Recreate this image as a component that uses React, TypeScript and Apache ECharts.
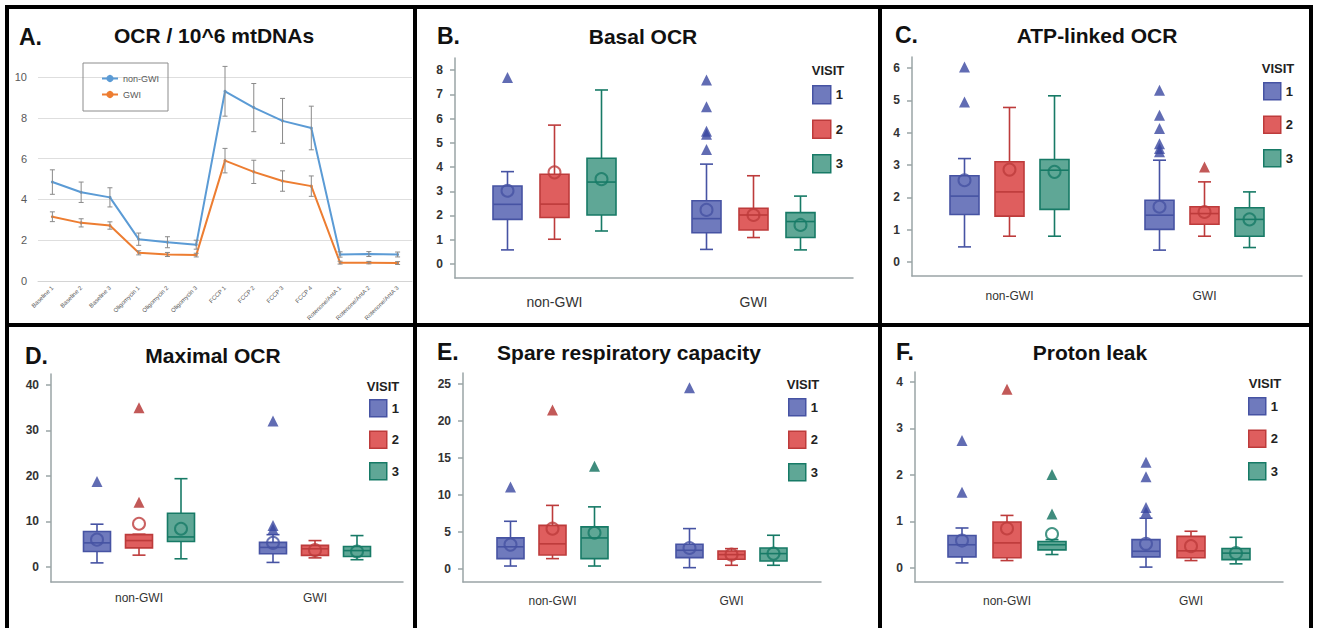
import React, { useEffect, useRef } from "react";
import * as echarts from "echarts";

// ---------- Panel A data ----------
const timePoints = [
  "Baseline 1", "Baseline 2", "Baseline 3",
  "Oligomycin 1", "Oligomycin 2", "Oligomycin 3",
  "FCCP 1", "FCCP 2", "FCCP 3", "FCCP 4",
  "Rotenone/AntA 1", "Rotenone/AntA 2", "Rotenone/AntA 3",
];
const nonGwiOcr = [4.85, 4.35, 4.1, 2.05, 1.9, 1.78, 9.3, 8.5, 7.85, 7.5, 1.3, 1.32, 1.3];
const nonGwiErr = [0.6, 0.5, 0.47, 0.3, 0.27, 0.22, 1.22, 1.18, 1.1, 1.07, 0.13, 0.12, 0.12];
const gwiOcr = [3.15, 2.85, 2.72, 1.38, 1.3, 1.27, 5.9, 5.35, 4.9, 4.65, 0.9, 0.9, 0.88];
const gwiErr = [0.24, 0.2, 0.18, 0.1, 0.1, 0.09, 0.6, 0.57, 0.5, 0.5, 0.07, 0.06, 0.07];
const ocrTicks = [0, 2, 4, 6, 8, 10];

// ---------- Box panels ----------
const groups = ["non-GWI", "GWI"];
const visits = ["1", "2", "3"];

// each box: [whisker low, Q1, median, Q3, whisker high]; [visit][group]
const basalBoxes = [
  [[0.58, 1.84, 2.46, 3.22, 3.81], [0.6, 1.29, 1.87, 2.61, 4.12]],
  [[1.02, 1.92, 2.47, 3.7, 5.73], [1.09, 1.4, 2.02, 2.3, 3.64]],
  [[1.36, 2.02, 3.38, 4.36, 7.18], [0.58, 1.09, 1.75, 2.12, 2.8]],
];
const basalMeans = [[3.02, 2.23], [3.78, 2.02], [3.5, 1.61]];
const basalOutliers = [[[7.7], [7.59, 6.49, 5.48, 5.35, 4.72]], [[], []], [[], []]];
const basalTicks = [0, 1, 2, 3, 4, 5, 6, 7, 8];

const atpBoxes = [
  [[0.47, 1.47, 2.04, 2.67, 3.2], [0.37, 1.01, 1.45, 1.91, 3.15]],
  [[0.8, 1.42, 2.17, 3.1, 4.78], [0.8, 1.17, 1.5, 1.71, 2.48]],
  [[0.8, 1.63, 2.84, 3.17, 5.14], [0.45, 0.8, 1.32, 1.68, 2.17]],
];
const atpMeans = [[2.53, 1.71], [2.86, 1.55], [2.79, 1.32]];
const atpOutliers = [[[6.03, 4.95], [5.31, 4.54, 4.13, 3.66, 3.51, 3.41]], [[], [2.94]], [[], []]];
const atpTicks = [0, 1, 2, 3, 4, 5, 6];

const maxBoxes = [
  [[0.9, 3.4, 5.3, 7.8, 9.4], [1.0, 2.9, 4.3, 5.4, 7.1]],
  [[2.6, 4.2, 5.8, 7.1, 7.2], [2.0, 2.56, 4.0, 4.75, 5.8]],
  [[1.8, 5.6, 6.6, 11.8, 19.4], [1.6, 2.3, 3.6, 4.5, 6.9]],
];
const maxMeans = [[6.0, 5.3], [9.5, 3.7], [8.4, 3.4]];
const maxOutliers = [[[18.8], [32.1, 9.1, 8.3]], [[35.0, 14.2], []], [[], []]];
const maxTicks = [0, 10, 20, 30, 40];

const spareBoxes = [
  [[0.4, 1.4, 3.0, 4.2, 6.45], [0.18, 1.53, 2.53, 3.34, 5.46]],
  [[1.4, 1.9, 3.4, 5.9, 8.6], [0.5, 1.31, 1.94, 2.44, 2.75]],
  [[0.4, 1.4, 4.2, 5.7, 8.4], [0.5, 1.08, 2.08, 2.84, 4.56]],
];
const spareMeans = [[3.3, 2.84], [5.45, 1.94], [4.9, 2.08]];
const spareOutliers = [[[11.1], [24.5]], [[21.5], []], [[13.9], []]];
const spareTicks = [0, 5, 10, 15, 20, 25];

const leakBoxes = [
  [[0.11, 0.24, 0.5, 0.7, 0.86], [0.02, 0.24, 0.36, 0.61, 1.07]],
  [[0.16, 0.22, 0.54, 0.99, 1.13], [0.16, 0.22, 0.37, 0.68, 0.79]],
  [[0.29, 0.39, 0.5, 0.57, 0.61], [0.09, 0.18, 0.32, 0.42, 0.66]],
];
const leakMeans = [[0.59, 0.52], [0.85, 0.47], [0.73, 0.32]];
const leakOutliers = [[[2.74, 1.63], [2.27, 1.96, 1.3, 1.2]], [[3.84], []], [[2.01, 1.16], []]];
const leakTicks = [0, 1, 2, 3, 4];

const panelLetters = ["A.", "B.", "C.", "D.", "E.", "F."];
const panelTitles = [
  "OCR / 10^6 mtDNAs", "Basal OCR", "ATP-linked OCR",
  "Maximal OCR", "Spare respiratory capacity", "Proton leak",
];

// ---------- styling / layout ----------
const FONT = "'Liberation Sans', Arial, sans-serif";
const fills = ["#6f7abd", "#df5e5e", "#5fa796"];
const strokes = ["#4653a3", "#bd3b3b", "#177a66"];
const marks = ["#3a47a0", "#b3302e", "#0f6f5c"];
const axisColor = "#9aa4a6";

const boxPanels = [
  { boxes: basalBoxes, means: basalMeans, outliers: basalOutliers, ticks: basalTicks, min: -0.58, max: 8.5,
    grid: { left: 455, top: 58, width: 398, height: 220 }, offset: 47, boxW: 29, xFont: 14, xMargin: 17,
    legend: { left: 812, top: 85, size: 18, gap: 15 }, visitPos: [828, 70] },
  { boxes: atpBoxes, means: atpMeans, outliers: atpOutliers, ticks: atpTicks, min: -0.43, max: 6.34,
    grid: { left: 912, top: 57, width: 390, height: 219 }, offset: 45, boxW: 29, xFont: 12, xMargin: 14,
    legend: { left: 1263, top: 82, size: 17, gap: 15 }, visitPos: [1278, 68] },
  { boxes: maxBoxes, means: maxMeans, outliers: maxOutliers, ticks: maxTicks, min: -3.3, max: 42.4,
    grid: { left: 51, top: 374, width: 352, height: 208 }, offset: 42, boxW: 27, xFont: 12, xMargin: 10,
    legend: { left: 369, top: 399, size: 17, gap: 13 }, visitPos: [383, 386] },
  { boxes: spareBoxes, means: spareMeans, outliers: spareOutliers, ticks: spareTicks, min: -1.76, max: 26.5,
    grid: { left: 463, top: 373, width: 358, height: 209 }, offset: 42, boxW: 27, xFont: 12, xMargin: 13,
    legend: { left: 788, top: 398, size: 17, gap: 14 }, visitPos: [803, 384] },
  { boxes: leakBoxes, means: leakMeans, outliers: leakOutliers, ticks: leakTicks, min: -0.3, max: 4.21,
    grid: { left: 915, top: 372, width: 368, height: 210 }, offset: 45, boxW: 28, xFont: 12, xMargin: 13,
    legend: { left: 1248, top: 397, size: 17, gap: 14 }, visitPos: [1265, 383] },
];

const letterPos = [[19, 37], [437, 36], [895, 35], [25, 356], [437, 352], [896, 352]];
const titlePos = [[214, 35], [643, 36], [1097, 35], [213, 355], [629, 352], [1090, 352]];

function makeBoxRender(offset: number, width: number, fill: string, stroke: string) {
  return (_params: any, api: any) => {
    const ci = api.value(0);
    const cx = api.coord([ci, 0])[0] + offset;
    const y = [1, 2, 3, 4, 5].map((d) => api.coord([ci, api.value(d)])[1]);
    const [yMin, yQ1, yMed, yQ3, yMax] = y;
    const hw = width / 2;
    const cw = 6.5;
    const ls = { stroke, lineWidth: 1.6, fill: "none" };
    return {
      type: "group",
      children: [
        { type: "line", shape: { x1: cx, y1: yQ3, x2: cx, y2: yMax }, style: ls },
        { type: "line", shape: { x1: cx - cw, y1: yMax, x2: cx + cw, y2: yMax }, style: ls },
        { type: "line", shape: { x1: cx, y1: yQ1, x2: cx, y2: yMin }, style: ls },
        { type: "line", shape: { x1: cx - cw, y1: yMin, x2: cx + cw, y2: yMin }, style: ls },
        { type: "rect", shape: { x: cx - hw, y: yQ3, width, height: yQ1 - yQ3 }, style: { fill, stroke, lineWidth: 1.6 } },
        { type: "line", shape: { x1: cx - hw, y1: yMed, x2: cx + hw, y2: yMed }, style: ls },
      ],
    };
  };
}

function errRender(_params: any, api: any) {
  const ci = api.value(0);
  const x = api.coord([ci, 0])[0];
  const yl = api.coord([ci, api.value(1)])[1];
  const yh = api.coord([ci, api.value(2)])[1];
  const st = { stroke: "#8a8a8a", lineWidth: 1 };
  return {
    type: "group",
    children: [
      { type: "line", shape: { x1: x, y1: yl, x2: x, y2: yh }, style: st },
      { type: "line", shape: { x1: x - 2.5, y1: yl, x2: x + 2.5, y2: yl }, style: st },
      { type: "line", shape: { x1: x - 2.5, y1: yh, x2: x + 2.5, y2: yh }, style: st },
    ],
  };
}

function buildOption() {
  const grids: any[] = [{ left: 38, top: 77, width: 374, height: 204 }];
  const xAxes: any[] = [
    {
      type: "category", gridIndex: 0, data: timePoints, boundaryGap: true,
      axisLine: { lineStyle: { color: "#d4d4d4" } }, axisTick: { show: false },
      axisLabel: { rotate: 45, fontSize: 6, color: "#595959", interval: 0, margin: 6, fontFamily: FONT },
    },
  ];
  const yAxes: any[] = [
    {
      type: "value", gridIndex: 0, min: 0, max: 10, interval: 2,
      axisLine: { show: false }, axisTick: { show: false },
      splitLine: { lineStyle: { color: "#dedede" } },
      axisLabel: { fontSize: 11, color: "#595959", margin: 11, fontFamily: FONT, customValues: ocrTicks },
    },
  ];
  const series: any[] = [
    {
      type: "line", name: "non-GWI", xAxisIndex: 0, yAxisIndex: 0, data: nonGwiOcr,
      symbol: "circle", symbolSize: 3, lineStyle: { color: "#5b9bd5", width: 2 }, itemStyle: { color: "#5b9bd5" },
    },
    {
      type: "line", name: "GWI", xAxisIndex: 0, yAxisIndex: 0, data: gwiOcr,
      symbol: "circle", symbolSize: 3, lineStyle: { color: "#ed7d31", width: 2 }, itemStyle: { color: "#ed7d31" },
    },
    {
      type: "custom", name: "nonGwiErr", xAxisIndex: 0, yAxisIndex: 0, renderItem: errRender,
      data: nonGwiOcr.map((v, i) => [i, v - nonGwiErr[i], v + nonGwiErr[i]]), z: 5,
    },
    {
      type: "custom", name: "gwiErr", xAxisIndex: 0, yAxisIndex: 0, renderItem: errRender,
      data: gwiOcr.map((v, i) => [i, v - gwiErr[i], v + gwiErr[i]]), z: 5,
    },
  ];
  const legends: any[] = [
    {
      left: 83, top: 63, orient: "vertical", padding: [11, 9, 12, 18], itemGap: 7,
      itemWidth: 16, itemHeight: 9, borderColor: "#8c8c8c", borderWidth: 1, selectedMode: false,
      textStyle: { fontSize: 9, color: "#595959", fontFamily: FONT },
      data: ["non-GWI", "GWI"],
    },
  ];
  const graphics: any[] = [];

  boxPanels.forEach((p, pi) => {
    const gi = pi + 1;
    grids.push(p.grid);
    xAxes.push({
      type: "category", gridIndex: gi, data: groups, boundaryGap: true,
      axisLine: { onZero: false, lineStyle: { color: axisColor, width: 1.5 } },
      axisTick: { alignWithLabel: true, length: 5, lineStyle: { color: axisColor, width: 1.5 } },
      axisLabel: { fontSize: p.xFont, color: "#333", margin: p.xMargin, fontFamily: FONT },
    });
    yAxes.push({
      type: "value", gridIndex: gi, min: p.min, max: p.max,
      axisLine: { show: true, lineStyle: { color: axisColor, width: 1.5 } },
      axisTick: { show: true, length: 5, customValues: p.ticks, lineStyle: { color: axisColor, width: 1.5 } },
      axisLabel: { customValues: p.ticks, fontSize: 12, fontWeight: "bold", color: "#333", margin: 12, fontFamily: FONT },
      splitLine: { show: false },
    });
    visits.forEach((v, vi) => {
      const off = (vi - 1) * p.offset;
      series.push({
        type: "custom", name: v, xAxisIndex: gi, yAxisIndex: gi,
        itemStyle: { color: fills[vi], borderColor: strokes[vi] },
        renderItem: makeBoxRender(off, p.boxW, fills[vi], strokes[vi]),
        encode: { x: 0, y: [1, 2, 3, 4, 5] },
        data: groups.map((_g, g) => [g, ...p.boxes[vi][g]]),
        z: 2,
      });
      series.push({
        type: "scatter", name: "mean " + v, xAxisIndex: gi, yAxisIndex: gi,
        symbol: "circle", symbolSize: 12, symbolOffset: [off, 0],
        itemStyle: { color: "rgba(0,0,0,0)", borderColor: strokes[vi], borderWidth: 2 },
        data: groups.map((_g, g) => [g, p.means[vi][g]]),
        z: 3,
      });
      const outs: number[][] = [];
      groups.forEach((_g, g) => p.outliers[vi][g].forEach((val) => outs.push([g, val])));
      series.push({
        type: "scatter", name: "outlier " + v, xAxisIndex: gi, yAxisIndex: gi,
        symbol: "triangle", symbolSize: 11, symbolOffset: [off, 0],
        itemStyle: { color: marks[vi] },
        data: outs,
        z: 4,
      });
    });
    legends.push({
      left: p.legend.left, top: p.legend.top, orient: "vertical", padding: 0,
      itemWidth: p.legend.size, itemHeight: p.legend.size, itemGap: p.legend.gap,
      icon: "rect", selectedMode: false,
      textStyle: { fontSize: 13, fontWeight: "bold", color: "#222", fontFamily: FONT },
      data: visits.map((v, vi) => ({
        name: v, icon: "rect",
        itemStyle: { color: fills[vi], borderColor: strokes[vi], borderWidth: 1.5 },
      })),
    });
    graphics.push({
      type: "text", x: p.visitPos[0], y: p.visitPos[1],
      style: { text: "VISIT", font: `bold 13px ${FONT}`, fill: "#222", textAlign: "center", textVerticalAlign: "middle" },
    });
  });

  panelLetters.forEach((t, i) => {
    graphics.push({
      type: "text", x: letterPos[i][0], y: letterPos[i][1],
      style: { text: t, font: `bold 23px ${FONT}`, fill: "#111", textAlign: "left", textVerticalAlign: "middle" },
    });
    graphics.push({
      type: "text", x: titlePos[i][0], y: titlePos[i][1],
      style: { text: panelTitles[i], font: `bold 21px ${FONT}`, fill: "#111", textAlign: "center", textVerticalAlign: "middle" },
    });
  });

  const bl = { stroke: "#000", lineWidth: 4 };
  [
    [5, 7, 1313, 7],
    [7, 5, 7, 628],
    [1311, 5, 1311, 628],
    [7, 325, 1311, 325],
    [415, 5, 415, 628],
    [880, 5, 880, 628],
  ].forEach(([x1, y1, x2, y2]) => {
    graphics.push({ type: "line", shape: { x1, y1, x2, y2 }, style: bl, z: 100 });
  });

  return {
    animation: false,
    backgroundColor: "#ffffff",
    textStyle: { fontFamily: FONT },
    grid: grids,
    xAxis: xAxes,
    yAxis: yAxes,
    legend: legends,
    series,
    graphic: graphics,
  };
}

export default function App() {
  const ref = useRef<HTMLDivElement>(null);
  useEffect(() => {
    if (!ref.current) return;
    const chart = echarts.init(ref.current, undefined, { renderer: "svg" });
    chart.setOption(buildOption() as any);
    return () => chart.dispose();
  }, []);
  return (
    <div
      ref={ref}
      style={{ position: "absolute", left: 0, top: 0, width: 1317, height: 628, background: "#fff" }}
    />
  );
}
